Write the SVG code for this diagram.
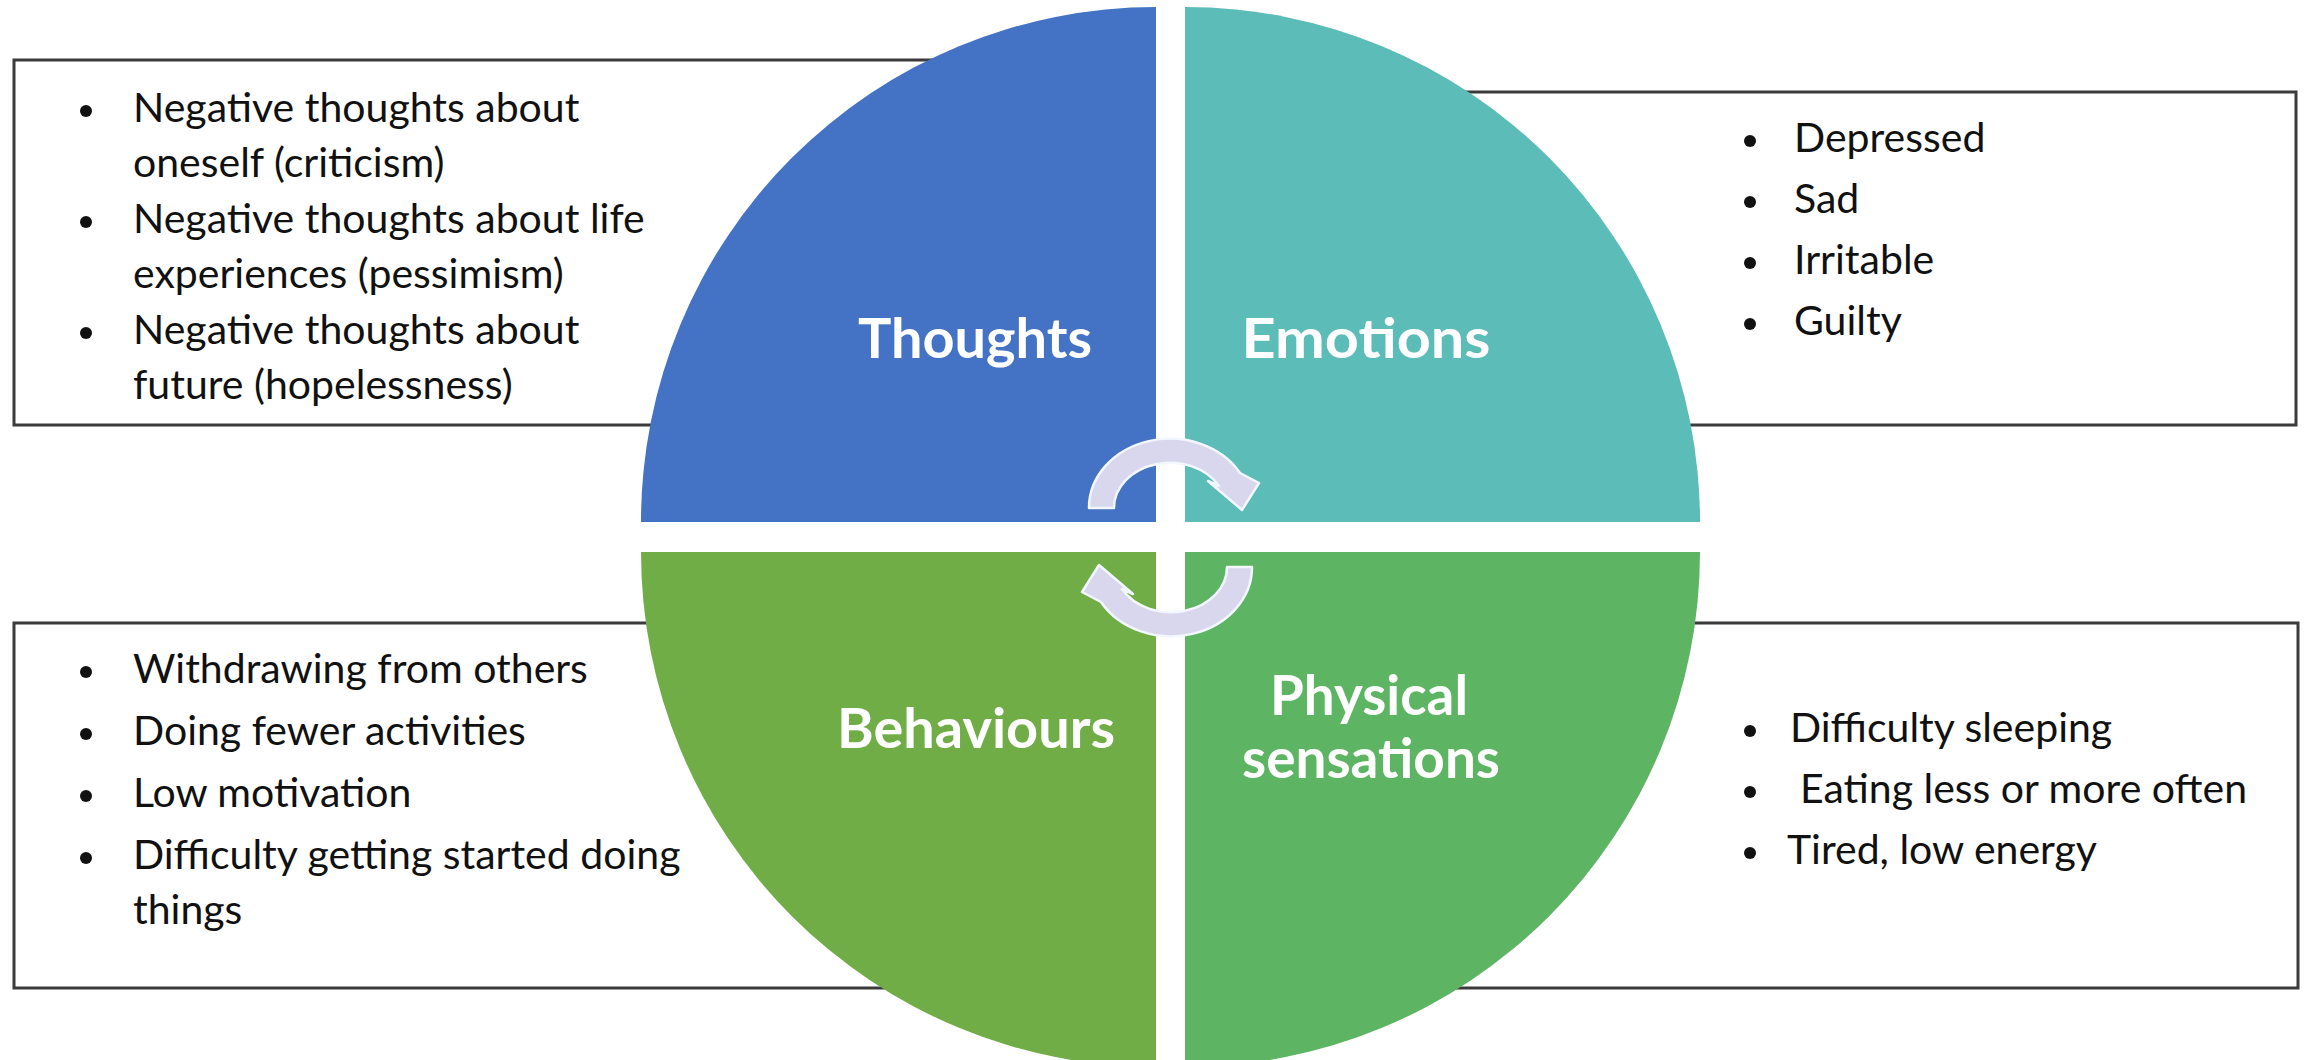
<svg xmlns="http://www.w3.org/2000/svg" width="2310" height="1060" viewBox="0 0 2310 1060">
  <style>
    .box { fill: #ffffff; stroke: #3b3b3b; stroke-width: 3; }
    .item { font-family: Lato, "Open Sans", "Liberation Sans", sans-serif; font-size: 41px; fill: #111111; }
    .label { font-family: Lato, "Open Sans", "Liberation Sans", sans-serif; font-weight: 700; font-size: 55px; fill: #ffffff; text-anchor: middle; }
    .dot { fill: #111111; }
    .cycle { fill: #D8D7EE; stroke: #F3F7FF; stroke-width: 2.5; stroke-linejoin: round; }
  </style>
  <defs>
    <!-- one circular arrow, clockwise over the top; the lower one is this rotated 180 degrees -->
    <path id="cycle-arrow" d="M1089,508 A81,69 0 0 1 1240,473 L1259,483 L1242,510 L1208,481 L1219,486 A56,45 0 0 0 1114,508 Z"/>
  </defs>

  <rect width="2310" height="1060" fill="#ffffff"/>

  <!-- text boxes (their inner edges run under the circle) -->
  <g id="thoughts-box">
    <rect class="box" x="14" y="60" width="1086" height="365"/>
  </g>
  <g id="emotions-box">
    <rect class="box" x="1250" y="92" width="1046" height="333"/>
  </g>
  <g id="behaviours-box">
    <rect class="box" x="14" y="623" width="1086" height="365"/>
  </g>
  <g id="sensations-box">
    <rect class="box" x="1250" y="623" width="1048" height="365"/>
  </g>

  <!-- four quadrants of the circle -->
  <g id="thoughts">
    <path d="M1156,522 L641,522 A515,515 0 0 1 1156,7 Z" fill="#4472C4"/>
    <text class="label" x="975" y="358" textLength="234" lengthAdjust="spacingAndGlyphs">Thoughts</text>
  </g>
  <g id="emotions">
    <path d="M1185,522 L1185,7 A515,515 0 0 1 1700,522 Z" fill="#5CBCB8"/>
    <text class="label" x="1366" y="358" textLength="249" lengthAdjust="spacingAndGlyphs">Emotions</text>
  </g>
  <g id="behaviours">
    <path d="M1156,552 L641,552 A515,515 0 0 0 1156,1067 Z" fill="#70AD47"/>
    <text class="label" x="976" y="748" textLength="278" lengthAdjust="spacingAndGlyphs">Behaviours</text>
  </g>
  <g id="physical-sensations">
    <path d="M1185,552 L1700,552 A515,515 0 0 1 1185,1067 Z" fill="#5DB462"/>
    <text class="label" x="1369" y="715" textLength="198" lengthAdjust="spacingAndGlyphs">Physical</text>
    <text class="label" x="1371" y="778" textLength="258" lengthAdjust="spacingAndGlyphs">sensations</text>
  </g>

  <!-- cycle arrows between the quadrants -->
  <g id="connectors">
    <use href="#cycle-arrow" class="cycle"/>
    <use href="#cycle-arrow" class="cycle" transform="rotate(180 1170.5 537.5)"/>
  </g>

  <!-- bullet lists -->
  <g id="thoughts-list">
    <circle class="dot" cx="86" cy="111" r="6"/>
    <text class="item" x="133" y="122">Negative thoughts about</text>
    <text class="item" x="133" y="177">oneself (criticism)</text>
    <circle class="dot" cx="86" cy="222" r="6"/>
    <text class="item" x="133" y="233">Negative thoughts about life</text>
    <text class="item" x="133" y="288">experiences (pessimism)</text>
    <circle class="dot" cx="86" cy="333" r="6"/>
    <text class="item" x="133" y="344">Negative thoughts about</text>
    <text class="item" x="133" y="399">future (hopelessness)</text>
  </g>
  <g id="emotions-list">
    <circle class="dot" cx="1750" cy="141" r="6"/>
    <text class="item" x="1794" y="152">Depressed</text>
    <circle class="dot" cx="1750" cy="202" r="6"/>
    <text class="item" x="1794" y="213">Sad</text>
    <circle class="dot" cx="1750" cy="263" r="6"/>
    <text class="item" x="1794" y="274">Irritable</text>
    <circle class="dot" cx="1750" cy="324" r="6"/>
    <text class="item" x="1794" y="335">Guilty</text>
  </g>
  <g id="behaviours-list">
    <circle class="dot" cx="86" cy="672" r="6"/>
    <text class="item" x="133" y="683">Withdrawing from others</text>
    <circle class="dot" cx="86" cy="734" r="6"/>
    <text class="item" x="133" y="745">Doing fewer activities</text>
    <circle class="dot" cx="86" cy="796" r="6"/>
    <text class="item" x="133" y="807">Low motivation</text>
    <circle class="dot" cx="86" cy="858" r="6"/>
    <text class="item" x="133" y="869">Difficulty getting started doing</text>
    <text class="item" x="133" y="924">things</text>
  </g>
  <g id="sensations-list">
    <circle class="dot" cx="1750" cy="731" r="6"/>
    <text class="item" x="1790" y="742">Difficulty sleeping</text>
    <circle class="dot" cx="1750" cy="792" r="6"/>
    <text class="item" x="1800" y="803">Eating less or more often</text>
    <circle class="dot" cx="1750" cy="853" r="6"/>
    <text class="item" x="1787" y="864">Tired, low energy</text>
  </g>
</svg>
